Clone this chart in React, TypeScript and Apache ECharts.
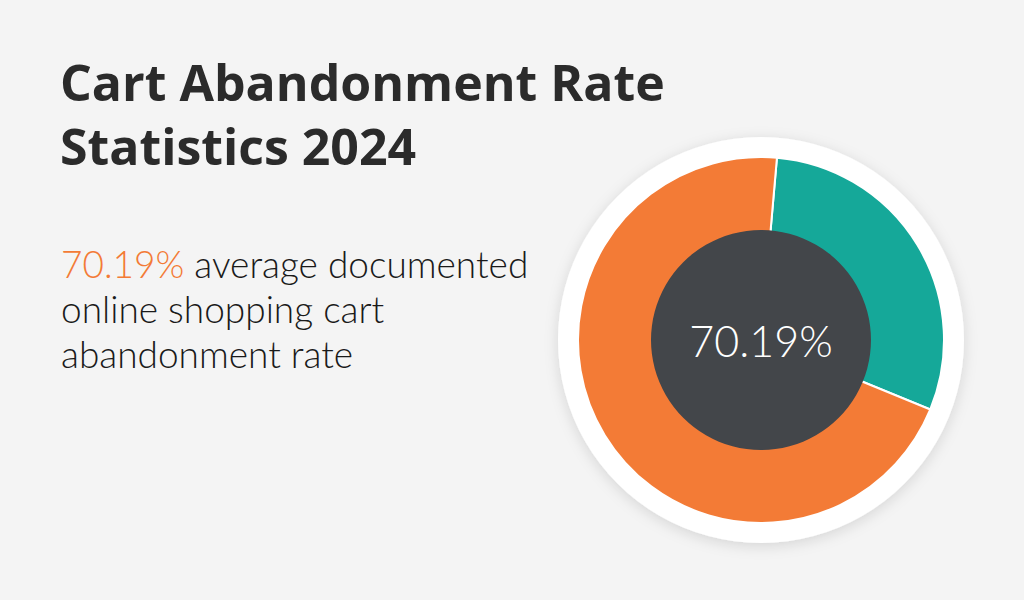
import React, { useEffect, useRef } from "react";
import * as echarts from "echarts";

// Share of online shopping carts (percent)
const categories = ["Completed", "Abandoned"];
const shares = [29.81, 70.19];
const sliceColors = ["#15a899", "#f37b36"];
const headline = "70.19%";
const titleLines = ["Cart Abandonment Rate", "Statistics 2024"];
const subtitleLines = ["average documented", "online shopping cart", "abandonment rate"];

export default function App() {
  const ref = useRef<HTMLDivElement>(null);

  useEffect(() => {
    if (!ref.current) return;
    const chart = echarts.init(ref.current, undefined, { renderer: "svg" });
    const center = [761, 340];
    chart.setOption({
      animation: false,
      backgroundColor: "#f4f4f4",
      title: [
        {
          text: titleLines.join("\n"),
          left: 55,
          top: 45,
          textStyle: {
            fontFamily: "Open Sans",
            fontWeight: 700,
            fontSize: 50,
            lineHeight: 64,
            color: "#2b2b2b",
          },
        },
        {
          text: `{hl|${headline}} ${subtitleLines.join("\n")}`,
          left: 56,
          top: 236,
          textStyle: {
            fontFamily: "Lato",
            fontWeight: 300,
            fontSize: 37,
            lineHeight: 45,
            color: "#1a1a1a",
            rich: {
              hl: {
                fontFamily: "Lato",
                fontWeight: 300,
                fontSize: 37,
                lineHeight: 45,
                color: "#f37b36",
              },
            },
          },
        },
      ],
      series: [
        {
          // white backing disc
          type: "pie",
          center,
          radius: [0, 203],
          silent: true,
          label: { show: false },
          data: [
            {
              value: 1,
              itemStyle: {
                color: "#ffffff",
                shadowBlur: 14,
                shadowColor: "rgba(0,0,0,0.13)",
                shadowOffsetY: 3,
              },
            },
          ],
        },
        {
          type: "pie",
          center,
          radius: [100, 183],
          startAngle: 85,
          clockwise: true,
          label: { show: false },
          labelLine: { show: false },
          itemStyle: { borderColor: "#ffffff", borderWidth: 2 },
          data: categories.map((name, i) => ({
            name,
            value: shares[i],
            itemStyle: { color: sliceColors[i] },
          })),
        },
        {
          // dark centre disc with the headline figure
          type: "pie",
          center,
          radius: [0, 110],
          silent: true,
          label: {
            show: true,
            position: "center",
            formatter: headline,
            fontFamily: "Lato",
            fontWeight: 300,
            fontSize: 43,
            color: "#ffffff",
          },
          labelLine: { show: false },
          data: [{ value: 1, name: headline, itemStyle: { color: "#43464a" } }],
        },
      ],
    });
    return () => chart.dispose();
  }, []);

  return (
    <div
      ref={ref}
      style={{ position: "fixed", left: 0, top: 0, width: 1024, height: 600 }}
    />
  );
}
